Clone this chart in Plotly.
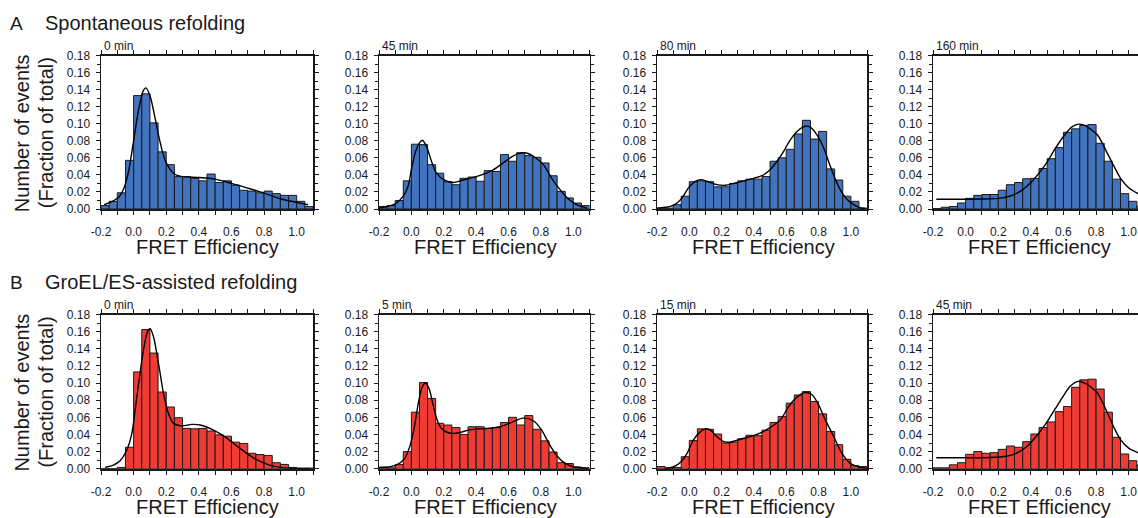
import plotly.graph_objects as go

# ---------------- data ----------------
BIN_CENTERS = [-0.175, -0.125, -0.075, -0.025, 0.025, 0.075, 0.125, 0.175, 0.225, 0.275,
               0.325, 0.375, 0.425, 0.475, 0.525, 0.575, 0.625, 0.675, 0.725, 0.775,
               0.825, 0.875, 0.925, 0.975, 1.025, 1.075]
BIN_WIDTH = 0.05

SPONT_0 = [0.004, 0.009, 0.019, 0.057, 0.133, 0.135, 0.101, 0.067, 0.052, 0.038,
           0.038, 0.036, 0.033, 0.041, 0.031, 0.033, 0.028, 0.022, 0.021, 0.019,
           0.021, 0.018, 0.016, 0.016, 0.009, 0.003]
SPONT_45 = [0.003, 0.004, 0.010, 0.033, 0.076, 0.0755, 0.052, 0.042, 0.032, 0.0285,
            0.036, 0.0375, 0.0325, 0.045, 0.044, 0.0638, 0.056, 0.066, 0.0626, 0.0606,
            0.054, 0.039, 0.0207, 0.013, 0.007, 0.004]
SPONT_80 = [0.001, 0.001, 0.005, 0.015, 0.032, 0.033, 0.032, 0.026, 0.026, 0.030,
            0.033, 0.035, 0.035, 0.038, 0.056, 0.060, 0.070, 0.088, 0.104, 0.082,
            0.091, 0.047, 0.034, 0.015, 0.009, 0.001]
SPONT_160 = [0.0005, 0.002, 0.003, 0.007, 0.0125, 0.016, 0.017, 0.017, 0.022, 0.0285,
             0.031, 0.0355, 0.036, 0.0475, 0.059, 0.072, 0.090, 0.094, 0.098, 0.099,
             0.077, 0.056, 0.035, 0.018, 0.009, 0.0035]
GRO_0 = [0.0, 0.0, 0.0015, 0.025, 0.113, 0.1625, 0.135, 0.0895, 0.072, 0.0595,
         0.047, 0.0465, 0.047, 0.044, 0.0395, 0.038, 0.031, 0.0295, 0.018, 0.0165,
         0.0155, 0.007, 0.005, 0.0015, 0.0008, 0.0008]
GRO_5 = [0.002, 0.001, 0.005, 0.020, 0.066, 0.1005, 0.082, 0.053, 0.051, 0.048,
         0.040, 0.049, 0.049, 0.047, 0.048, 0.054, 0.060, 0.051, 0.062, 0.046,
         0.0325, 0.0195, 0.007, 0.006, 0.002, 0.001]
GRO_15 = [0.0025, 0.001, 0.0015, 0.014, 0.033, 0.0465, 0.046, 0.0405, 0.030, 0.031,
          0.035, 0.039, 0.0385, 0.045, 0.054, 0.061, 0.0765, 0.086, 0.090, 0.0785,
          0.064, 0.0435, 0.028, 0.011, 0.0035, 0.0025]
GRO_45 = [0.001, 0.001, 0.0045, 0.007, 0.0168, 0.020, 0.018, 0.0187, 0.0226, 0.0265,
          0.025, 0.0316, 0.0405, 0.048, 0.0546, 0.0667, 0.0725, 0.095, 0.1037, 0.1045,
          0.093, 0.066, 0.0367, 0.0172, 0.0094, 0.0043]

# fitted curves, points
FIT_SPONT_0_X = [-0.18, -0.13, -0.09, -0.06, -0.03, 0.0, 0.03, 0.06, 0.075, 0.1, 0.13, 0.15,
                 0.18, 0.2, 0.25, 0.3, 0.4, 0.5, 0.6, 0.7, 0.8, 0.9, 1.0, 1.07]
FIT_SPONT_0_Y = [0.005, 0.009, 0.014, 0.024, 0.045, 0.080, 0.116, 0.139, 0.142, 0.133, 0.108,
                 0.089, 0.065, 0.054, 0.041, 0.038, 0.037, 0.035, 0.030, 0.0245, 0.0187,
                 0.012, 0.0078, 0.005]
FIT_SPONT_45_X = [-0.2, -0.1, -0.05, -0.02, 0.0, 0.027, 0.056, 0.068, 0.093, 0.124, 0.155,
                  0.207, 0.258, 0.32, 0.4, 0.506, 0.61, 0.66, 0.71, 0.76, 0.815, 0.867,
                  0.918, 0.97, 1.02, 1.085]
FIT_SPONT_45_Y = [0.001, 0.006, 0.015, 0.027, 0.046, 0.068, 0.079, 0.0806, 0.0735, 0.056,
                  0.042, 0.0336, 0.031, 0.034, 0.038, 0.046, 0.060, 0.065, 0.0657, 0.061,
                  0.052, 0.036, 0.0227, 0.0117, 0.005, 0.001]
FIT_SPONT_80_X = [-0.2, -0.117, -0.076, -0.045, -0.004, 0.037, 0.072, 0.11, 0.17, 0.223,
                  0.295, 0.378, 0.45, 0.5, 0.543, 0.584, 0.625, 0.667, 0.718, 0.749, 0.79,
                  0.832, 0.873, 0.914, 0.956, 0.997, 1.048, 1.09]
FIT_SPONT_80_Y = [0.001, 0.003, 0.007, 0.013, 0.025, 0.0325, 0.0344, 0.0325, 0.0286, 0.0278,
                  0.031, 0.035, 0.039, 0.046, 0.056, 0.0677, 0.081, 0.091, 0.097, 0.096,
                  0.087, 0.0716, 0.050, 0.0305, 0.016, 0.0078, 0.0023, 0.0008]
FIT_SPONT_160_X = [-0.18, 0.0, 0.1, 0.2, 0.27, 0.33, 0.4, 0.45, 0.5, 0.55, 0.6, 0.65, 0.69,
                   0.73, 0.77, 0.81, 0.87, 0.91, 0.95, 1.0, 1.065]
FIT_SPONT_160_Y = [0.0115, 0.0115, 0.0117, 0.0125, 0.015, 0.020, 0.031, 0.042, 0.055, 0.071,
                   0.085, 0.096, 0.0995, 0.098, 0.093, 0.0865, 0.065, 0.050, 0.036, 0.025,
                   0.0172]
FIT_GRO_0_X = [-0.175, -0.124, -0.083, -0.042, -0.011, 0.009, 0.036, 0.06, 0.085, 0.101,
               0.122, 0.142, 0.163, 0.183, 0.214, 0.245, 0.296, 0.357, 0.409, 0.49, 0.57,
               0.65, 0.74, 0.82, 0.9, 1.02, 1.085]
FIT_GRO_0_Y = [0.0016, 0.0043, 0.0093, 0.0218, 0.041, 0.068, 0.107, 0.138, 0.160, 0.1637,
               0.154, 0.1345, 0.111, 0.088, 0.0645, 0.0529, 0.050, 0.0517, 0.051, 0.045,
               0.036, 0.024, 0.012, 0.005, 0.0015, 0.0, 0.0]
FIT_GRO_5_X = [-0.2, -0.093, -0.041, -0.01, 0.015, 0.041, 0.068, 0.089, 0.11, 0.134, 0.155,
               0.186, 0.227, 0.279, 0.361, 0.464, 0.547, 0.63, 0.69, 0.753, 0.805, 0.846,
               0.898, 0.95, 1.0, 1.094]
FIT_GRO_5_Y = [0.001, 0.0043, 0.012, 0.026, 0.045, 0.0746, 0.096, 0.100, 0.093, 0.0746,
               0.059, 0.047, 0.042, 0.0414, 0.0453, 0.047, 0.049, 0.055, 0.059, 0.056,
               0.045, 0.0305, 0.0152, 0.0062, 0.0023, 0.0004]
FIT_GRO_15_X = [-0.148, -0.097, -0.051, -0.014, 0.027, 0.068, 0.099, 0.13, 0.171, 0.213,
                0.254, 0.337, 0.419, 0.5, 0.564, 0.615, 0.667, 0.718, 0.76, 0.8, 0.842,
                0.894, 0.945, 0.997, 1.059, 1.1]
FIT_GRO_15_Y = [0.0004, 0.0023, 0.0082, 0.018, 0.034, 0.043, 0.0465, 0.045, 0.0375, 0.0316,
                0.031, 0.0355, 0.040, 0.048, 0.057, 0.0726, 0.0836, 0.089, 0.0863, 0.0746,
                0.057, 0.0375, 0.018, 0.0062, 0.0016, 0.0004]
FIT_GRO_45_X = [-0.18, 0.0, 0.15, 0.25, 0.31, 0.37, 0.43, 0.49, 0.55, 0.6, 0.64, 0.69, 0.73,
                0.77, 0.81, 0.87, 0.91, 0.95, 1.0, 1.065]
FIT_GRO_45_Y = [0.0128, 0.0128, 0.013, 0.0145, 0.018, 0.025, 0.037, 0.052, 0.070, 0.085,
                0.096, 0.102, 0.100, 0.095, 0.088, 0.065, 0.048, 0.034, 0.024, 0.018]

TIME_LABELS = ["0 min", "45 min", "80 min", "160 min", "0 min", "5 min", "15 min", "45 min"]
ROW_TITLES = ["Spontaneous refolding", "GroEL/ES-assisted refolding"]
ROW_LETTERS = ["A", "B"]
X_TITLE = "FRET Efficiency"
Y_TITLE_LINES = ["Number of events", "(Fraction of total)"]
X_TICK_VALS = [-0.2, 0.0, 0.2, 0.4, 0.6, 0.8, 1.0]
X_TICK_LABELS = ["-0.2", "0.0", "0.2", "0.4", "0.6", "0.8", "1.0"]
Y_TICK_VALS = [0.0, 0.02, 0.04, 0.06, 0.08, 0.10, 0.12, 0.14, 0.16, 0.18]
Y_TICK_LABELS = ["0.00", "0.02", "0.04", "0.06", "0.08", "0.10", "0.12", "0.14", "0.16", "0.18"]

BARS = [SPONT_0, SPONT_45, SPONT_80, SPONT_160, GRO_0, GRO_5, GRO_15, GRO_45]
FITS = [(FIT_SPONT_0_X, FIT_SPONT_0_Y), (FIT_SPONT_45_X, FIT_SPONT_45_Y),
        (FIT_SPONT_80_X, FIT_SPONT_80_Y), (FIT_SPONT_160_X, FIT_SPONT_160_Y),
        (FIT_GRO_0_X, FIT_GRO_0_Y), (FIT_GRO_5_X, FIT_GRO_5_Y),
        (FIT_GRO_15_X, FIT_GRO_15_Y), (FIT_GRO_45_X, FIT_GRO_45_Y)]

# ---------------- layout (pixels) ----------------
W, H = 1138, 518
COLS = [(101, 313), (379, 589.5), (657, 867), (933, 1138)]
ROWS = [(55.5, 209), (314.5, 468.7)]
ROW_COLORS = ["#4273BE", "#F03A34"]
FONT = "Liberation Sans, Arial, sans-serif"
INK = "#1a1a1a"
PX_PER_UNIT = (COLS[0][1] - COLS[0][0]) / 1.3

fig = go.Figure()
annotations = []


def px(x):
    return x / W


def py(y):
    return 1 - y / H


for i in range(8):
    r, c = divmod(i, 4)
    n = "" if i == 0 else str(i + 1)
    x0, x1 = COLS[c]
    y0, y1 = ROWS[r]
    xmax = 1.1 if c < 3 else -0.2 + (x1 - x0) / PX_PER_UNIT
    fig.add_trace(go.Bar(
        x=BIN_CENTERS, y=BARS[i], width=BIN_WIDTH,
        marker=dict(color=ROW_COLORS[r], line=dict(color=INK, width=1)),
        xaxis="x" + n, yaxis="y" + n, showlegend=False, hoverinfo="skip"))
    fx, fy = FITS[i]
    fig.add_trace(go.Scatter(
        x=fx, y=fy, mode="lines",
        line=dict(color="black", width=1.4, shape="spline", smoothing=0.8),
        xaxis="x" + n, yaxis="y" + n, showlegend=False, hoverinfo="skip"))

    common_tick = dict(color=INK, size=12, family=FONT)
    fig.layout["xaxis" + n] = dict(
        domain=[px(x0), px(x1)], anchor="y" + n, range=[-0.2, xmax],
        tickmode="array", tickvals=X_TICK_VALS, ticktext=X_TICK_LABELS,
        ticks="outside", ticklen=4, tickwidth=1, tickcolor=INK,
        minor=dict(tickmode="linear", tick0=-0.2, dtick=0.1, ticks="outside",
                   ticklen=4, tickwidth=1, tickcolor=INK, showgrid=False),
        showline=True, linecolor=INK, linewidth=2, mirror="ticks",
        showgrid=False, zeroline=False, tickfont=common_tick,
        ticklabelstandoff=7, fixedrange=True, automargin=False)
    fig.layout["yaxis" + n] = dict(
        domain=[py(y1), py(y0)], anchor="x" + n, range=[0, 0.18],
        tickmode="array", tickvals=Y_TICK_VALS, ticktext=Y_TICK_LABELS,
        ticks="outside", ticklen=4, tickwidth=1, tickcolor=INK,
        minor=dict(tickmode="linear", tick0=0, dtick=0.01, ticks="outside",
                   ticklen=3, tickwidth=1, tickcolor=INK, showgrid=False),
        showline=True, linecolor=INK, linewidth=1.5,
        mirror=("ticks" if c < 3 else False),
        showgrid=False, zeroline=False, tickfont=common_tick,
        ticklabelstandoff=3, fixedrange=True, automargin=False)

    # time label
    annotations.append(dict(text=TIME_LABELS[i], x=px(x0 + 1), y=py(y0 - 9.5),
                            xref="paper", yref="paper", xanchor="left", yanchor="middle",
                            showarrow=False, font=dict(size=12, color=INK, family=FONT)))
    # x title
    full_right = x0 + 1.3 * PX_PER_UNIT
    annotations.append(dict(text=X_TITLE, x=px((x0 + full_right) / 2), y=py(y1 + 38),
                            xref="paper", yref="paper", xanchor="center", yanchor="middle",
                            showarrow=False, font=dict(size=20, color=INK, family=FONT)))

for r in range(2):
    y0, y1 = ROWS[r]
    ymid = (y0 + y1) / 2 + 1
    annotations.append(dict(text=ROW_LETTERS[r], x=px(8), y=py(y0 - 32.5),
                            xref="paper", yref="paper", xanchor="left", yanchor="middle",
                            showarrow=False, font=dict(size=19, color=INK, family=FONT)))
    annotations.append(dict(text=ROW_TITLES[r], x=px(43), y=py(y0 - 32.5),
                            xref="paper", yref="paper", xanchor="left", yanchor="middle",
                            showarrow=False, font=dict(size=20, color=INK, family=FONT)))
    for k, (line, xc) in enumerate(zip(Y_TITLE_LINES, [22, 46])):
        annotations.append(dict(text=line, x=px(xc), y=py(ymid), textangle=-90,
                                xref="paper", yref="paper", xanchor="center", yanchor="middle",
                                showarrow=False, font=dict(size=20, color=INK, family=FONT)))

fig.update_layout(
    autosize=True, margin=dict(l=0, r=0, t=0, b=0, pad=0, autoexpand=False),
    paper_bgcolor="white", plot_bgcolor="white", bargap=0,
    font=dict(family=FONT, color=INK), annotations=annotations, showlegend=False)

# the plot div is pinned to the page's top-left corner so the body margin cannot shift it
fig.write_html("out.html", config={"displayModeBar": False, "staticPlot": True},
               default_width="%dpx" % W,
               default_height="%dpx;position:absolute;left:0;top:0" % H,
               post_script="document.body.style.margin='0';document.body.style.overflow='hidden';")
